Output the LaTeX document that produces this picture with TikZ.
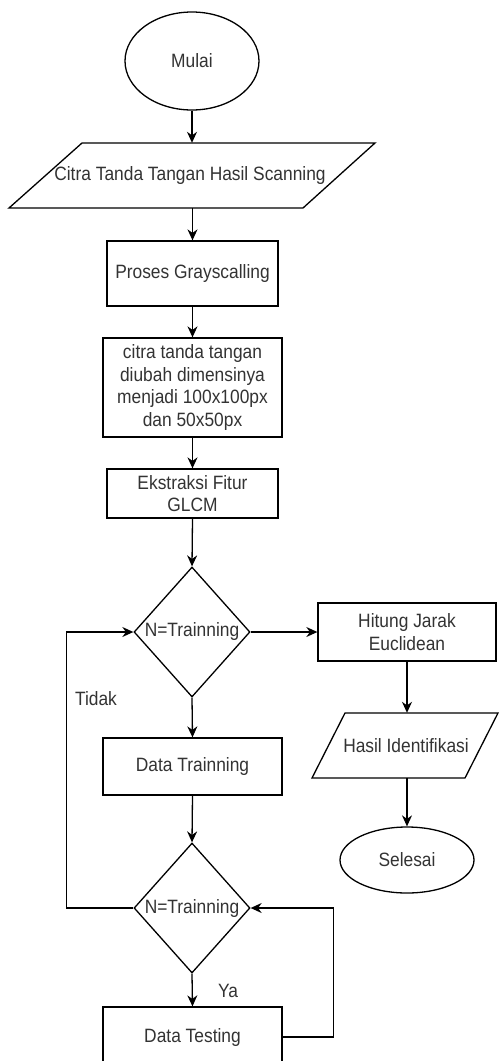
\documentclass[tikz,border=0pt]{standalone}
\usepackage{fontspec}
\setmainfont[FakeStretch=0.9]{Liberation Sans}
\usetikzlibrary{shapes.geometric,arrows.meta}
\definecolor{txt}{HTML}{333333}
\tikzset{
  base/.style={draw=black, line width=1.3pt, inner sep=0pt, align=center, text=txt,
    font=\fontsize{19.3}{22.5}\selectfont},
  procbox/.style={base, rectangle},
  termbox/.style={base, ellipse},
  decbox/.style={base, diamond, minimum width=116pt, minimum height=130pt},
  iobox/.style={inner sep=0pt, align=center, text=txt, font=\fontsize{19.3}{22.5}\selectfont},
  arr/.style={draw=black, line width=1.3pt, -{Stealth[length=11pt,width=10pt]}},
  lbl/.style={text=txt, font=\fontsize{19.3}{21}\selectfont, inner sep=0pt}
}
\begin{document}
\begin{tikzpicture}[x=1pt,y=-1pt]
\clip (0,0) rectangle (499,1061);
\fill[white] (0,0) rectangle (499,1061);

\node[termbox, minimum width=134pt, minimum height=98pt] (start) at (192,61) {Mulai};

\draw[line width=1.3pt] (82,143) -- (375,143) -- (303,208) -- (9,208) -- cycle;
\node[iobox, minimum height=65pt] (inp) at (190,175.5) {Citra Tanda Tangan Hasil Scanning};

\node[procbox, minimum width=171pt, minimum height=65pt] (gray) at (192.5,273.5) {Proses Grayscalling};
\node[procbox, minimum width=179pt, minimum height=99pt] (resize) at (192.5,387.5)
  {citra tanda tangan\\diubah dimensinya\\menjadi 100x100px\\dan 50x50px};
\node[procbox, minimum width=171pt, minimum height=49pt] (glcm) at (192.5,493.5) {Ekstraksi Fitur\\GLCM};

\node[decbox, label={[lbl]center:N=Trainning}] (d1) at (192,632) {};
\node[procbox, minimum width=178pt, minimum height=58pt] (hit) at (407,632) {Hitung Jarak\\Euclidean};

\draw[line width=1.3pt] (345,713) -- (498,713) -- (465,778) -- (312,778) -- cycle;
\node[iobox, minimum height=65pt] (hasil) at (406,745.5) {Hasil Identifikasi};

\node[termbox, minimum width=134pt, minimum height=66pt] (sel) at (407,860) {Selesai};

\node[procbox, minimum width=179pt, minimum height=57pt] (dtr) at (192.5,766.5) {Data Trainning};
\node[decbox, label={[lbl]center:N=Trainning}] (d2) at (192,908) {};
\node[procbox, minimum width=179pt, minimum height=60pt] (dts) at (192.5,1037) {Data Testing};

\node[lbl] (tidak) at (96,699) {Tidak};
\node[lbl] (ya) at (228,991) {Ya};

\draw[arr] (start.south) -- (start.south |- inp.north);
\draw[arr] (inp.south -| gray.north) -- (gray.north);
\draw[arr] (gray.south) -- (resize.north);
\draw[arr] (resize.south) -- (glcm.north);
\draw[arr] (glcm.south) -- (d1.north);
\draw[arr] (d1.east) -- (hit.west);
\draw[arr] (hit.south) -- (hit.south |- hasil.north);
\draw[arr] (hit.south |- hasil.south) -- (sel.north);
\draw[arr] (d1.south) -- (dtr.north);
\draw[arr] (dtr.south) -- (d2.north);
\draw[arr] (d2.south) -- (dts.north);
\draw[arr] (d2.west) -- ++(-67,0) |- (d1.west);
\draw[arr] (dts.east) -- ++(51,0) |- (d2.east);
\end{tikzpicture}
\end{document}
